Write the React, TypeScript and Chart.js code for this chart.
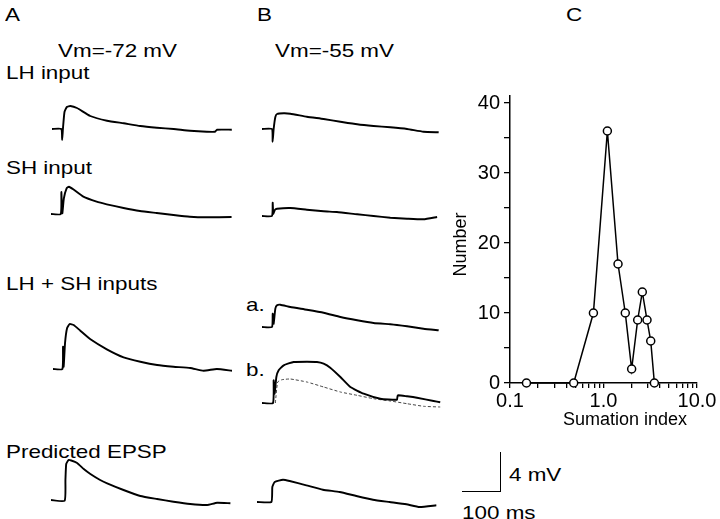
import React, { useEffect, useRef } from 'react';
import { Chart, registerables } from 'chart.js';
Chart.register(...registerables);

const FONT = '"Liberation Sans", Arial, Helvetica, sans-serif';

// ---------- Panel C: distribution of the summation index ----------
const sumationIndex = [0.15, 0.48, 0.78, 1.1, 1.43, 1.71, 2.0, 2.32, 2.6, 2.92, 3.2, 3.5];
const cellCounts = [0, 0, 10, 36, 17, 10, 2, 9, 13, 9, 6, 0];
const yTickValues = [0, 5, 10, 15, 20, 25, 30, 35, 40];
const yLabelledTicks = [0, 10, 20, 30, 40];
const xTickValues = [0.1, 0.2, 0.3, 0.4, 0.5, 0.6, 0.7, 0.8, 0.9, 1, 2, 3, 4, 5, 6, 7, 8, 9, 10];
const xLabelledTicks = [0.1, 1, 10];
const xTickLabels = ['0.1', '1.0', '10.0'];

// ---------- Panels A & B: EPSP traces (time in ms from trace start, mV from baseline) ----------
// A, Vm = -72 mV
const lhA_t = [0, 24, 26, 28, 32, 38, 47, 64, 98, 141, 184, 226, 269, 312, 354, 397, 418, 423, 461];
const lhA_mv = [0, 0, -1.1, 0, 1.7, 2.2, 2.3, 2.1, 1.3, 0.83, 0.57, 0.3, 0.13, 0, -0.17, -0.27, -0.27, -0.07, -0.07];
const shA_t = [0, 25, 26.5, 29, 33, 40, 46, 57, 83, 117, 143, 186, 228, 271, 314, 356, 399, 463];
const shA_mv = [0, 0, 2.2, 0.07, 1.57, 2.57, 2.73, 2.47, 1.73, 1.23, 0.97, 0.6, 0.3, 0.1, -0.1, -0.27, -0.33, -0.3];
const sumA_t = [0, 24, 25.6, 27.4, 30.8, 36, 42.7, 53, 70, 96, 138, 181, 224, 267, 309, 352, 386, 420, 459];
const sumA_mv = [0, 0, 2.23, 0.23, 2.57, 4.07, 4.5, 4.4, 3.83, 2.97, 1.97, 1.17, 0.73, 0.4, 0.23, 0.1, -0.17, 0, -0.17];
const predA_t = [0, 35, 37, 39, 45, 52, 67, 84, 101, 126, 144, 186, 229, 272, 314, 357, 400, 426, 460];
const predA_mv = [0, -0.07, 2.0, 3.6, 4.0, 3.95, 3.7, 3.1, 2.6, 2.0, 1.67, 1.0, 0.4, 0.1, -0.17, -0.4, -0.5, -0.27, -0.33];
// B, Vm = -55 mV
const lhB_t = [0, 25.6, 27.3, 29.9, 34.2, 38.5, 55.6, 72.6, 115, 158, 201, 244, 286, 329, 372, 414, 453];
const lhB_mv = [0, 0, -1.27, 0, 1.2, 1.5, 1.57, 1.53, 1.23, 1.0, 0.73, 0.47, 0.3, 0.17, 0, -0.27, -0.33];
const shB_t = [0, 25.6, 27.4, 29, 33.3, 38.5, 72.6, 115, 158, 192, 244, 286, 329, 372, 414, 449];
const shB_mv = [0, 0, 1.33, 0.23, 0.63, 0.73, 0.8, 0.63, 0.47, 0.4, 0.17, 0, -0.17, -0.27, -0.33, -0.1];
const sumBa_t = [0, 25.6, 27.4, 29.9, 34.2, 38.5, 47, 72.6, 115, 158, 201, 244, 286, 329, 346, 372, 414, 453];
const sumBa_mv = [0, 0, 1.33, 0.33, 1.83, 2.17, 2.23, 2.0, 1.73, 1.43, 1.0, 0.67, 0.4, 0.27, 0.2, 0.07, -0.17, -0.33];
const sumBb_t = [0, 28.2, 29.9, 32.5, 36.8, 42.7, 55.6, 81.2, 115.4, 141, 158, 175, 201, 226.5, 260.7, 303.4, 346, 348, 372, 397.4, 440, 457];
const sumBb_mv = [0, 0, 2.27, 0.93, 2.6, 3.27, 3.77, 4.1, 4.13, 4.1, 3.93, 3.53, 2.6, 1.6, 0.93, 0.43, 0.33, 0.77, 0.67, 0.53, 0.2, 0.07];
const sumBbDash_t = [34.2, 40.2, 51.3, 72.6, 115, 158, 201, 243.6, 286, 329, 372, 414.5, 457];
const sumBbDash_mv = [0, 2.1, 2.33, 2.4, 2.1, 1.6, 1.1, 0.77, 0.43, 0.2, -0.07, -0.33, -0.4];
const predB_t = [0, 36.8, 39.3, 45.3, 66.7, 83.8, 126.5, 169, 212, 254.7, 297.4, 340, 383, 417, 459.8];
const predB_mv = [0, 0, 1.5, 2.0, 2.23, 2.1, 1.67, 1.23, 1.0, 0.6, 0.23, 0, -0.23, -0.5, -0.33];

// trace display geometry (scale bar: 100 ms, 4 mV)
const TRACE_W = 190;
const PX_PER_MS = 0.39;
const PX_PER_MV = 10;
const TRACE_YMAX = 5.4;
const TRACE_YMIN = -1.8;
const TRACE_H = Math.round((TRACE_YMAX - TRACE_YMIN) * PX_PER_MV);

type Series = { t: number[]; v: number[]; dashed?: boolean };

function Trace({ series, left, baseline }: { series: Series[]; left: number; baseline: number }) {
  const ref = useRef<HTMLCanvasElement>(null);
  useEffect(() => {
    const chart = new Chart(ref.current as HTMLCanvasElement, {
      type: 'line',
      data: {
        datasets: series.map((s) => ({
          data: s.t.map((t, i) => ({ x: t, y: s.v[i] })),
          borderColor: s.dashed ? '#444' : '#000',
          borderWidth: s.dashed ? 1 : 1.9,
          borderDash: s.dashed ? [3, 2] : [],
          pointRadius: 0,
          tension: 0.15,
          fill: false,
          clip: false as any,
        })),
      },
      options: {
        animation: false,
        responsive: false,
        devicePixelRatio: 1,
        events: [],
        layout: { padding: 0 },
        plugins: { legend: { display: false }, tooltip: { enabled: false } },
        scales: {
          x: { type: 'linear', display: false, min: 0, max: TRACE_W / PX_PER_MS },
          y: { type: 'linear', display: false, min: TRACE_YMIN, max: TRACE_YMAX },
        },
      },
    });
    return () => chart.destroy();
  }, []);
  return (
    <canvas
      ref={ref}
      width={TRACE_W}
      height={TRACE_H}
      style={{ position: 'absolute', left, top: baseline - TRACE_YMAX * PX_PER_MV, width: TRACE_W, height: TRACE_H }}
    />
  );
}

function SummationChart() {
  const ref = useRef<HTMLCanvasElement>(null);
  useEffect(() => {
    const chart = new Chart(ref.current as HTMLCanvasElement, {
      type: 'line',
      data: {
        datasets: [
          {
            data: sumationIndex.map((x, i) => ({ x, y: cellCounts[i] })),
            borderColor: '#000',
            borderWidth: 1.5,
            pointRadius: 4,
            pointBorderWidth: 1.5,
            pointBackgroundColor: '#fff',
            pointBorderColor: '#000',
            tension: 0,
            clip: false as any,
          },
        ],
      },
      options: {
        animation: false,
        responsive: false,
        devicePixelRatio: 1,
        events: [],
        layout: { padding: { top: 13, right: 23, bottom: 9, left: 0 } },
        plugins: { legend: { display: false }, tooltip: { enabled: false } },
        scales: {
          x: {
            type: 'logarithmic',
            min: 0.1,
            max: 10,
            afterBuildTicks: (s: any) => {
              s.ticks = xTickValues.map((v) => ({ value: v }));
            },
            afterFit: (s: any) => {
              s.height = 48;
            },
            ticks: {
              autoSkip: false,
              maxRotation: 0,
              minRotation: 0,
              color: '#000',
              padding: 1,
              font: { family: FONT, size: 20 },
              callback: (value: any) => {
                const i = xLabelledTicks.findIndex((m) => Math.abs(m - Number(value)) < 1e-9);
                return i >= 0 ? xTickLabels[i] : '';
              },
            },
            grid: { drawOnChartArea: false, color: '#000', lineWidth: 1.3, tickLength: 5 },
            border: { color: '#000', width: 1.5 },
            title: { display: true, text: 'Sumation index  ', align: 'end', color: '#000', padding: 0, font: { family: FONT, size: 18 } },
          },
          y: {
            type: 'linear',
            min: 0,
            max: 41,
            afterBuildTicks: (s: any) => {
              s.ticks = yTickValues.map((v) => ({ value: v }));
            },
            afterFit: (s: any) => {
              s.width = 70;
            },
            ticks: {
              color: '#000',
              padding: 4,
              font: { family: FONT, size: 20 },
              callback: (value: any) => (yLabelledTicks.includes(Number(value)) ? String(value) : ''),
            },
            grid: { drawOnChartArea: false, color: '#000', lineWidth: 1.3, tickLength: 6 },
            border: { color: '#000', width: 1.5 },
            title: { display: true, text: 'Number  ', color: '#000', padding: { top: 10, bottom: 0 }, font: { family: FONT, size: 18 } },
          },
        },
      },
    });
    return () => chart.destroy();
  }, []);
  return <canvas ref={ref} width={280} height={360} style={{ position: 'absolute', left: 440, top: 80, width: 280, height: 360 }} />;
}

function Label({ text, left, capTop, size = 19 }: { text: string; left: number; capTop: number; size?: number }) {
  return (
    <div
      style={{
        position: 'absolute',
        left,
        top: capTop - 0.13 * size,
        fontFamily: FONT,
        fontSize: size,
        lineHeight: `${size}px`,
        color: '#000',
        whiteSpace: 'nowrap',
        transform: 'scaleX(1.18)',
        transformOrigin: 'left top',
      }}
    >
      {text}
    </div>
  );
}

export default function App() {
  return (
    <div style={{ position: 'absolute', left: 0, top: 0, width: 720, height: 519, background: '#fff', overflow: 'hidden' }}>
      <Label text="A" left={5} capTop={7} />
      <Label text="B" left={257} capTop={7} />
      <Label text="C" left={566} capTop={7} />
      <Label text="Vm=-72 mV" left={58} capTop={43} />
      <Label text="Vm=-55 mV" left={275} capTop={43} />
      <Label text="LH input" left={6} capTop={65} />
      <Label text="SH input" left={6} capTop={160} />
      <Label text="LH + SH inputs" left={6} capTop={276} />
      <Label text="Predicted EPSP" left={6} capTop={444} />
      <Label text="a." left={246} capTop={297} />
      <Label text="b." left={246} capTop={362} />

      <Trace series={[{ t: lhA_t, v: lhA_mv }]} left={51.7} baseline={129} />
      <Trace series={[{ t: shA_t, v: shA_mv }]} left={51} baseline={214} />
      <Trace series={[{ t: sumA_t, v: sumA_mv }]} left={52.7} baseline={369} />
      <Trace series={[{ t: predA_t, v: predA_mv }]} left={50.7} baseline={500} />

      <Trace series={[{ t: lhB_t, v: lhB_mv }]} left={261.7} baseline={129} />
      <Trace series={[{ t: shB_t, v: shB_mv }]} left={261.7} baseline={215.7} />
      <Trace series={[{ t: sumBa_t, v: sumBa_mv }]} left={261.7} baseline={326.7} />
      <Trace series={[{ t: sumBb_t, v: sumBb_mv }, { t: sumBbDash_t, v: sumBbDash_mv, dashed: true }]} left={261.7} baseline={402.7} />
      <Trace series={[{ t: predB_t, v: predB_mv }]} left={257.3} baseline={501.7} />

      <SummationChart />

      {/* scale bar: 4 mV / 100 ms */}
      <div style={{ position: 'absolute', left: 500, top: 452, width: 0, height: 40, borderLeft: '1.5px solid #000' }} />
      <div style={{ position: 'absolute', left: 462, top: 491, width: 39, height: 0, borderTop: '1.5px solid #000' }} />
      <Label text="4 mV" left={509} capTop={467} />
      <Label text="100 ms" left={462} capTop={505} />
    </div>
  );
}
